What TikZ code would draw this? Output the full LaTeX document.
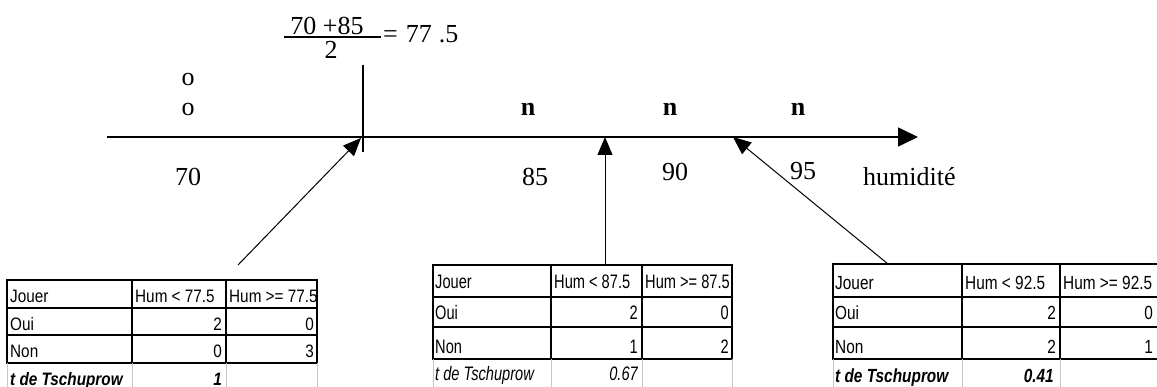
\documentclass[tikz,border=0pt]{standalone}
\usepackage{fontspec}
\setmainfont{Liberation Serif}
\newfontfamily\cellA[FakeStretch=0.85]{Liberation Sans}
\newfontfamily\cellB[FakeStretch=0.75]{Liberation Sans}
\newfontfamily\cellC[FakeStretch=0.81]{Liberation Sans}
\usetikzlibrary{arrows.meta}

\tikzset{
  axisline/.style={line width=1.6pt,-{Triangle[length=20pt,width=19pt]}},
  pointer/.style={line width=1pt,-{Triangle[length=18pt,width=15pt]}},
  rule/.style={line width=1.2pt},
  heavyrule/.style={line width=2.6pt},
  faint/.style={line width=0.9pt,draw=black!22},
  lbl/.style={font=\fontsize{26}{30}\selectfont,inner sep=0pt,anchor=base},
  lblw/.style={lbl,anchor=base west},
  cl/.style={inner sep=0pt,anchor=base west},
  cr/.style={inner sep=0pt,anchor=base east},
  fa/.style={font=\cellA\fontsize{18}{20}\selectfont},
  fb/.style={font=\cellB\fontsize{19.5}{22}\selectfont},
  fc/.style={font=\cellC\fontsize{19}{22}\selectfont},
}

\begin{document}
\begin{tikzpicture}[x=1pt,y=-1pt]
\useasboundingbox (0,0) rectangle (1157,387);
\clip (0,0) rectangle (1157,387);

% ---------- humidity axis ----------
\coordinate (ax0) at (107,137);
\coordinate (ax1) at (918,137);
\draw[axisline] (ax0) -- (ax1);

% split mark at 77.5
\coordinate (cutT) at (363,65);
\coordinate (cutB) at (363,152);
\draw[line width=1.5pt] (cutT) -- (cutB);

% formula for the split point
\node[lbl] (num) at (327,35) {70 +85};
\node[lbl] (den) at (331,59) {2};
\coordinate (barL) at (284,37);
\coordinate (barR) at (381,37);
\draw[line width=1.2pt] (barL) -- (barR);
\node[lblw] (res) at (383,43) {=\hspace{8pt}77\hspace{7pt}.5};

% class marks above the axis
\node[lbl] (o1) at (188,86) {o};
\node[lbl] (o2) at (188,116) {o};
\node[lbl,font=\fontsize{26}{30}\selectfont\bfseries] (n1) at (528,116) {n};
\node[lbl,font=\fontsize{26}{30}\selectfont\bfseries] (n2) at (670,116) {n};
\node[lbl,font=\fontsize{26}{30}\selectfont\bfseries] (n3) at (798,116) {n};

% values below the axis
\node[lbl] (v70) at (188,186) {70};
\node[lbl] (v85) at (535,186) {85};
\node[lbl] (v90) at (675,181) {90};
\node[lbl] (v95) at (803,180) {95};
\node[lblw] (hum) at (863,186) {humidité};

% ---------- pointers from the tables to the axis ----------
\coordinate (pA) at (238,265);
\coordinate (aA) at (361,138);
\coordinate (pB) at (605,265);
\coordinate (aB) at (605,137);
\coordinate (pC) at (888,264);
\coordinate (aC) at (733,137);
\draw[pointer] (pA) -- (aA);
\draw[pointer] (pB) -- (aB);
\draw[pointer] (pC) -- (aC);

% ---------- table: split at 77.5 ----------
\draw[rule] (7,280) rectangle (317,363);
\draw[rule] (7,308) -- (317,308) (7,335) -- (317,335);
\draw[rule] (132,280) -- (132,363) (226,280) -- (226,363);
\draw[faint] (7,363) -- (7,400) (132,363) -- (132,400)
             (226,363) -- (226,400) (317,363) -- (317,400);
\begin{scope}[every node/.append style={fa}]
\node[cl] (a11) at (10,303) {Jouer};
\node[cl] (a12) at (135,303) {Hum < 77.5};
\node[cl] (a13) at (229,303) {Hum >= 77.5};
\node[cl] (a21) at (10,331) {Oui};
\node[cr] (a22) at (222,331) {2};
\node[cr] (a23) at (314,331) {0};
\node[cl] (a31) at (10,358) {Non};
\node[cr] (a32) at (222,358) {0};
\node[cr] (a33) at (314,358) {3};
\node[cl] (a41) at (10,385) {\bfseries\itshape t de Tschuprow};
\node[cr] (a42) at (222,385) {\bfseries\itshape 1};
\end{scope}

% ---------- table: split at 87.5 ----------
\draw[rule] (433,265) rectangle (732,359);
\draw[rule] (433,297) -- (732,297);
\draw[heavyrule] (433,327) -- (732,327);
\draw[rule] (551,265) -- (551,359) (642,265) -- (642,359);
\draw[faint] (433,359) -- (433,400) (551,359) -- (551,400)
             (642,359) -- (642,400) (732,359) -- (732,400);
\begin{scope}[every node/.append style={fb}]
\node[cl] (b11) at (435,289) {Jouer};
\node[cl] (b12) at (554,289) {Hum < 87.5};
\node[cl] (b13) at (645,289) {Hum >= 87.5};
\node[cl] (b21) at (435,320) {Oui};
\node[cr] (b22) at (638,320) {2};
\node[cr] (b23) at (729,320) {0};
\node[cl] (b31) at (435,353) {Non};
\node[cr] (b32) at (638,353) {1};
\node[cr] (b33) at (729,353) {2};
\node[cl] (b41) at (435,381) {\itshape t de Tschuprow};
\node[cr] (b42) at (638,381) {\itshape 0.67};
\end{scope}

% ---------- table: split at 92.5 ----------
\draw[rule] (833,264) rectangle (1170,359);
\draw[rule] (833,297) -- (1170,297);
\draw[heavyrule] (833,327) -- (1170,327);
\draw[rule] (962,264) -- (962,359) (1060,264) -- (1060,359);
\draw[faint] (833,359) -- (833,400) (962,359) -- (962,400)
             (1060,359) -- (1060,400);
\begin{scope}[every node/.append style={fc}]
\node[cl] (c11) at (835,290) {Jouer};
\node[cl] (c12) at (965,290) {Hum < 92.5};
\node[cl] (c13) at (1063,290) {Hum >= 92.5};
\node[cl] (c21) at (835,320) {Oui};
\node[cr] (c22) at (1056,320) {2};
\node[cr] (c23) at (1153,320) {0};
\node[cl] (c31) at (835,353) {Non};
\node[cr] (c32) at (1056,353) {2};
\node[cr] (c33) at (1153,353) {1};
\node[cl] (c41) at (835,382) {\bfseries\itshape t de Tschuprow};
\node[cr] (c42) at (1054,382) {\bfseries\itshape 0.41};
\end{scope}
\end{tikzpicture}
\end{document}
